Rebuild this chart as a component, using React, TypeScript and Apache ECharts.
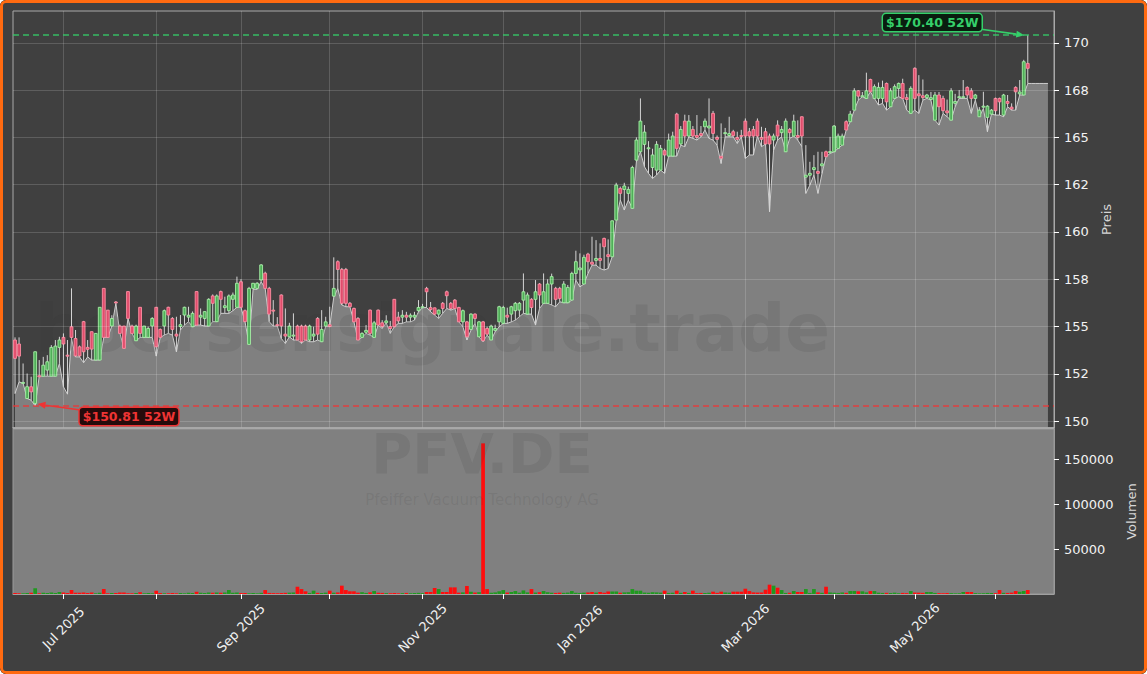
import React, { useEffect, useRef } from "react";
import * as echarts from "echarts";

// ---------- categories (trading days) ----------
const START_DATE = "2025-06-13";
const HOLIDAYS = ["2025-12-24", "2025-12-25", "2025-12-26", "2025-12-31", "2026-01-01", "2026-04-03", "2026-04-06", "2026-05-01"];
const N_CATEGORIES = 258;
const MONTH_NAMES = ["Jan", "Feb", "Mar", "Apr", "May", "Jun", "Jul", "Aug", "Sep", "Oct", "Nov", "Dec"];
const LABEL_MONTHS = [0, 2, 4, 6, 8, 10];

// ---------- price ticks ----------
const PRICE_TICKS = [150, 152.5, 155, 157.5, 160, 162.5, 165, 167.5, 170];
const PRICE_TICK_LABELS = ["150", "152", "155", "158", "160", "162", "165", "168", "170"];
const VOLUME_TICKS = [50000, 100000, 150000];

// ---------- series values ----------
const OPEN = [
  154.29, 154.08, 152.0, 151.2, 151.82, 150.94, 152.4, 152.38, 152.7, 152.38, 152.38, 153.9,
  154.43, 153.49, 154.99, 154.37, 153.93, 155.26, 153.9, 154.73, 153.23, 153.23, 157.02, 155.87,
  155.03, 156.3, 155.03, 155.03, 156.85, 155.03, 154.25, 156.02, 154.43, 154.43, 155.03, 156.02,
  154.85, 155.03, 156.02, 155.43, 154.6, 155.0, 155.61, 155.5, 154.99, 156.85, 155.5, 155.43,
  155.03, 156.62, 155.26, 156.85, 156.0, 155.84, 156.44, 156.02, 157.37, 155.84, 154.06, 157.02,
  157.02, 157.46, 157.82, 157.02, 155.87, 155.1, 156.67, 154.6, 154.46, 154.5, 155.03, 155.03,
  155.03, 154.29, 154.5, 155.43, 154.2, 155.03, 155.1, 156.61, 158.43, 158.02, 158.02, 156.23,
  155.96, 155.43, 154.43, 154.7, 155.87, 154.43, 155.87, 155.2, 155.2, 155.0, 156.44, 155.5,
  155.5, 155.6, 155.5, 155.5, 155.84, 156.0, 157.02, 156.0, 155.99, 155.66, 156.23, 156.84,
  156.23, 156.4, 156.01, 155.25, 155.25, 154.85, 155.66, 154.46, 155.25, 154.9, 154.29, 154.8,
  155.25, 155.17, 155.6, 155.66, 155.84, 155.87, 156.4, 155.66, 156.44, 156.44, 157.25, 156.23,
  156.23, 157.25, 157.02, 157.02, 156.26, 156.26, 156.4, 157.81, 158.0, 157.25, 158.83, 158.4,
  158.5, 158.6, 159.66, 158.8, 158.69, 160.63, 162.3, 162.25, 162.04, 161.25, 163.8, 164.24,
  164.63, 164.42, 163.41, 163.27, 163.27, 164.3, 164.01, 164.01, 166.23, 164.65, 165.86, 165.07,
  165.42, 165.1, 165.2, 165.56, 165.5, 166.27, 165.0, 164.0, 165.2, 165.1, 165.3, 165.0,
  165.1, 165.86, 165.3, 165.42, 165.86, 165.0, 165.3, 165.07, 164.86, 165.65, 165.25, 164.24,
  165.42, 165.07, 165.1, 166.09, 162.9, 163.0, 163.3, 163.2, 163.5, 164.24, 164.2, 164.24,
  164.42, 164.59, 165.83, 165.83, 166.44, 167.46, 167.15, 167.06, 168.06, 167.06, 167.06, 167.06,
  167.85, 166.62, 167.06, 167.59, 167.85, 167.1, 166.27, 168.65, 167.3, 167.2, 167.1, 167.0,
  165.91, 167.24, 167.06, 166.4, 165.91, 166.8, 167.1, 167.1, 167.64, 167.46, 167.06, 166.09,
  166.6, 166.06, 166.23, 167.06, 167.06, 166.18, 166.9, 166.6, 167.64, 167.3, 167.24, 168.91,
];
const HIGH = [
  154.43, 154.43, 153.05, 152.52, 152.35, 153.67, 153.23, 153.4, 153.49, 154.02, 154.29, 154.46,
  154.64, 154.29, 157.02, 154.82, 154.0, 155.3, 154.29, 154.73, 154.64, 156.02, 157.02, 155.87,
  155.6, 156.35, 155.1, 155.03, 156.85, 155.1, 155.1, 156.02, 155.03, 155.0, 155.5, 156.02,
  154.9, 155.9, 156.05, 155.5, 155.52, 155.61, 156.05, 156.05, 155.8, 156.85, 155.96, 155.8,
  156.5, 156.7, 156.7, 156.9, 156.58, 156.7, 156.8, 157.64, 157.5, 155.9, 157.1, 157.3,
  157.35, 158.3, 157.9, 157.1, 156.4, 155.5, 156.7, 155.96, 155.2, 155.7, 155.1, 155.1,
  155.1, 155.1, 155.0, 155.5, 155.87, 155.52, 156.05, 158.66, 158.5, 158.1, 158.1, 156.3,
  156.0, 155.5, 154.7, 155.08, 155.9, 155.3, 155.9, 155.34, 155.6, 155.3, 156.44, 155.78,
  155.87, 155.78, 155.7, 155.78, 156.4, 156.2, 157.1, 156.3, 156.0, 155.9, 156.3, 156.9,
  156.3, 156.45, 156.05, 155.9, 155.3, 155.7, 155.7, 155.3, 155.3, 155.0, 155.1, 155.1,
  156.1, 156.1, 156.0, 156.1, 156.3, 156.3, 157.81, 156.8, 156.5, 157.46, 157.3, 157.81,
  157.5, 157.8, 157.1, 157.1, 157.4, 157.2, 157.9, 159.01, 158.87, 158.8, 158.9, 159.75,
  159.57, 159.4, 159.7, 159.61, 160.6, 162.6, 162.4, 162.6, 162.4, 163.5, 165.0, 167.06,
  165.65, 164.8, 164.4, 164.8, 164.6, 164.4, 165.2, 165.3, 166.3, 165.6, 166.2, 166.18,
  165.6, 166.18, 165.6, 166.0, 167.06, 166.4, 165.1, 165.74, 165.5, 166.09, 165.4, 165.3,
  165.4, 166.0, 165.5, 165.6, 166.0, 165.56, 165.5, 165.2, 165.2, 165.9, 165.6, 166.0,
  165.5, 166.2, 165.9, 166.1, 164.59, 163.71, 164.06, 164.24, 164.24, 164.3, 165.03, 165.65,
  165.2, 165.2, 165.9, 166.4, 167.6, 167.5, 167.4, 168.42, 168.1, 167.8, 167.9, 168.0,
  167.9, 167.6, 167.8, 167.9, 168.1, 167.3, 167.7, 168.7, 168.29, 168.06, 167.3, 167.4,
  167.4, 167.4, 167.2, 167.0, 167.6, 167.3, 167.5, 168.03, 167.7, 167.6, 167.3, 166.6,
  167.41, 166.7, 166.5, 167.1, 167.1, 167.3, 167.24, 166.8, 167.7, 168.03, 169.1, 170.4,
];
const LOW = [
  151.46, 152.08, 152.0, 151.2, 151.11, 150.81, 152.38, 152.38, 152.38, 152.38, 152.38, 153.05,
  151.82, 151.43, 154.37, 153.4, 153.4, 153.09, 153.4, 153.23, 153.23, 153.23, 154.43, 154.43,
  155.03, 156.23, 154.64, 153.85, 155.43, 154.64, 154.25, 154.43, 154.43, 154.43, 154.43, 153.44,
  154.43, 154.55, 154.64, 154.55, 153.67, 154.82, 155.08, 155.26, 154.99, 155.08, 155.08, 155.03,
  155.03, 155.26, 155.26, 155.7, 155.7, 155.7, 155.84, 156.02, 156.02, 155.26, 154.06, 156.97,
  156.97, 157.37, 157.02, 155.26, 155.03, 155.03, 154.37, 154.11, 154.46, 154.29, 154.29, 154.11,
  154.29, 154.2, 154.2, 154.29, 154.2, 155.03, 154.99, 156.56, 157.02, 156.14, 156.05, 156.05,
  155.25, 154.29, 154.43, 154.64, 154.55, 154.43, 155.08, 154.9, 155.2, 154.64, 154.99, 155.17,
  155.17, 155.25, 155.25, 155.34, 155.78, 156.0, 156.01, 155.78, 155.61, 155.43, 155.7, 155.96,
  155.87, 155.96, 155.25, 154.99, 154.29, 154.81, 155.17, 154.46, 154.2, 154.55, 154.29, 154.73,
  154.99, 155.17, 155.17, 155.25, 155.34, 155.52, 155.7, 155.66, 155.66, 155.08, 155.96, 156.23,
  156.23, 156.14, 156.05, 156.31, 156.26, 156.26, 156.4, 157.46, 157.1, 157.25, 157.81, 158.25,
  158.25, 158.07, 157.99, 158.07, 158.69, 160.63, 161.69, 161.16, 161.69, 161.25, 163.71, 164.24,
  163.45, 163.1, 162.83, 163.01, 163.27, 163.1, 164.01, 164.01, 164.01, 164.59, 164.51, 165.03,
  164.95, 164.86, 165.03, 165.39, 164.95, 164.86, 164.59, 163.62, 165.03, 165.03, 165.03, 164.68,
  165.03, 163.89, 164.07, 164.07, 165.07, 164.51, 164.65, 161.07, 164.33, 164.86, 165.03, 164.24,
  164.95, 165.07, 164.86, 164.51, 162.04, 162.48, 163.01, 162.04, 163.09, 163.98, 164.15, 164.24,
  164.42, 164.59, 165.39, 165.83, 166.44, 166.97, 167.15, 167.06, 167.41, 167.06, 166.71, 166.8,
  166.44, 166.62, 167.06, 167.15, 167.06, 166.44, 166.27, 166.44, 166.27, 166.97, 167.06, 166.97,
  165.91, 165.65, 166.27, 166.09, 165.91, 166.62, 167.06, 167.06, 167.06, 166.27, 166.97, 166.09,
  166.53, 165.3, 166.23, 166.18, 166.18, 166.09, 166.62, 166.44, 166.44, 167.24, 167.24, 167.85,
];
const CLOSE = [
  153.32, 153.44, 152.05, 151.82, 151.55, 153.67, 152.38, 152.96, 153.14, 153.9, 153.97, 154.29,
  154.08, 153.47, 154.43, 153.45, 153.45, 153.67, 153.8, 153.81, 154.64, 156.02, 154.43, 154.43,
  155.43, 156.25, 154.64, 153.85, 155.43, 154.64, 155.03, 154.64, 155.03, 154.9, 155.43, 153.93,
  154.43, 155.84, 155.61, 154.85, 154.5, 155.1, 156.02, 155.6, 155.7, 155.08, 155.6, 155.79,
  156.44, 156.23, 156.62, 156.44, 156.1, 156.62, 156.67, 157.29, 156.02, 155.26, 157.02, 157.29,
  157.29, 158.26, 157.02, 155.66, 155.85, 155.05, 155.03, 154.5, 155.03, 154.55, 154.29, 154.2,
  154.29, 155.03, 154.6, 154.6, 154.85, 155.25, 155.0, 157.02, 158.02, 156.23, 156.23, 156.05,
  155.25, 154.29, 154.64, 154.8, 154.64, 155.2, 155.08, 155.0, 155.3, 154.9, 154.99, 155.3,
  155.6, 155.5, 155.6, 155.6, 156.01, 156.05, 156.84, 155.9, 155.66, 155.87, 155.96, 156.63,
  155.96, 155.96, 155.25, 155.84, 154.46, 155.66, 155.43, 155.25, 154.25, 154.6, 155.03, 154.9,
  156.05, 156.01, 155.5, 156.05, 156.23, 156.23, 156.84, 156.67, 156.01, 156.84, 156.67, 156.84,
  157.25, 157.64, 156.44, 156.49, 157.25, 157.07, 157.81, 158.43, 158.1, 158.66, 158.43, 158.3,
  158.6, 158.5, 159.22, 158.7, 160.59, 162.48, 162.04, 162.43, 162.25, 163.41, 164.86, 165.86,
  165.28, 164.45, 164.07, 164.63, 164.42, 164.07, 164.86, 165.07, 164.42, 165.42, 165.07, 165.86,
  165.07, 165.0, 165.1, 165.86, 165.6, 165.21, 164.9, 163.9, 165.25, 165.2, 165.09, 164.9,
  165.05, 165.07, 165.07, 165.07, 165.07, 164.9, 164.65, 164.65, 165.07, 165.07, 165.42, 165.86,
  165.25, 165.86, 165.0, 165.07, 163.0, 163.1, 163.4, 163.1, 163.6, 163.98, 164.25, 165.6,
  165.07, 165.07, 165.39, 166.23, 167.46, 167.18, 167.2, 167.46, 167.41, 167.68, 167.64, 167.64,
  166.88, 167.46, 167.68, 167.85, 167.06, 167.0, 167.59, 167.06, 167.2, 167.1, 167.24, 167.1,
  167.24, 166.62, 166.41, 166.3, 167.46, 166.9, 167.15, 167.15, 167.24, 167.06, 167.24, 166.44,
  166.65, 166.65, 166.44, 166.41, 166.88, 167.24, 166.8, 166.5, 167.41, 167.4, 169.0, 168.65,
];
// the filled low-line keeps its last level for a few more sessions
const LOW_LINE_TAIL = [167.85, 167.85, 167.85, 167.85, 167.85];
const VOLUME = [
  1200, 900, 800, 1000, 1500, 6300, 900, 1400, 1200, 1600, 1000, 2200,
  1800, 1100, 4400, 1500, 1300, 1700, 1200, 1600, 900, 1400, 5500, 800,
  1000, 1200, 1800, 1600, 700, 900, 1100, 2000, 800, 1000, 900, 3700,
  1100, 800, 900, 1000, 700, 1200, 900, 1300, 1100, 2600, 1500, 1200,
  1800, 1400, 1600, 1300, 1700, 4400, 1500, 1800, 1200, 1000, 900, 1100,
  800, 1300, 4400, 1200, 1000, 900, 1100, 1300, 1500, 1700, 8100, 5500,
  3000, 1200, 3700, 1300, 1100, 1500, 3700, 1400, 1700, 9300, 4400, 3000,
  3000, 1500, 2000, 1200, 1800, 3300, 1400, 1200, 1000, 900, 1100, 800,
  1000, 1200, 900, 1100, 1300, 1000, 2200, 2200, 6700, 5500, 2200, 2200,
  7400, 7400, 1500, 1800, 8900, 2500, 1600, 2000, 168000, 5500, 1400, 1800,
  3000, 4400, 1600, 2200, 3300, 1500, 4000, 1800, 5500, 1600, 2000, 3300,
  2000, 1400, 1200, 1500, 1300, 1600, 3300, 1400, 1200, 1500, 1700, 2200,
  1600, 2200, 1400, 2800, 2800, 2800, 1400, 1800, 2000, 5500, 3700, 3700,
  1600, 1400, 2000, 1800, 1500, 3700, 1200, 1400, 3700, 1300, 2200, 1200,
  3700, 1000, 1200, 1100, 1400, 2600, 1300, 2600, 1700, 1500, 2600, 2600,
  2600, 5900, 3300, 1800, 1600, 1700, 4800, 10400, 9300, 7000, 4400, 1200,
  1400, 3300, 2200, 2200, 5500, 1200, 5500, 1800, 1300, 8100, 1700, 1400,
  1200, 1700, 1300, 3300, 3300, 3000, 3000, 1800, 3300, 3300, 1500, 1200,
  1300, 1100, 1500, 900, 1200, 1000, 3300, 1600, 1500, 1300, 2200, 2200,
  1200, 1000, 900, 1100, 1000, 800, 900, 2200, 2200, 2200, 1000, 800,
  900, 1200, 1100, 1000, 4400, 1300, 1200, 1500, 3300, 2500, 3300, 4400,
];
const HIGH_52W = 170.4;
const LOW_52W = 150.81;
const TICKER = "PFV.DE";
const COMPANY = "Pfeiffer Vacuum Technology AG";
const WATERMARK = "boersensignale.trade";

// ---------- styles ----------
const BG = "#404040";
const PANE_GREY = "#808080";
const GRID_LINE = "rgba(255,255,255,0.16)";
const FRAME = "#a9a9a9";
const WICK = "#d4d4d4";
const UP_FILL = "#4fae58";
const UP_EDGE = "#a6f0a6";
const DOWN_FILL = "#e04d6c";
const DOWN_EDGE = "#ff8da3";
const VOL_UP = "#1f9a1f";
const VOL_DOWN = "#ff0d0d";
const GREEN = "#35d06a";
const RED = "#ee3434";
const WM_FILL = "rgba(50,50,50,0.11)";
const FONT = '"DejaVu Sans", sans-serif';

function tradingDays(): string[] {
  const out: string[] = [];
  const d = new Date(START_DATE + "T12:00:00Z");
  while (out.length < N_CATEGORIES) {
    const wd = d.getUTCDay();
    const s = d.toISOString().slice(0, 10);
    if (wd !== 0 && wd !== 6 && HOLIDAYS.indexOf(s) < 0) out.push(s);
    d.setUTCDate(d.getUTCDate() + 1);
  }
  return out;
}

export default function App() {
  const ref = useRef<HTMLDivElement>(null);

  useEffect(() => {
    if (!ref.current) return;
    const chart = echarts.init(ref.current, undefined, { renderer: "svg" });
    const days = tradingDays();
    const monthStart = days.map((d, i) => i > 0 && d.slice(5, 7) !== days[i - 1].slice(5, 7));
    const labelAt = (i: number) => monthStart[i] && LABEL_MONTHS.indexOf(Number(days[i].slice(5, 7)) - 1) >= 0;
    const candleData = OPEN.map((o, i) => [i, o, CLOSE[i], LOW[i], HIGH[i]]);
    const lowLine = LOW.concat(LOW_LINE_TAIL);
    const volData = VOLUME.map((v, i) => ({
      value: v,
      itemStyle: { color: CLOSE[i] >= OPEN[i] ? VOL_UP : VOL_DOWN },
    }));
    const monthLines = days.filter((_, i) => monthStart[i]).map((d) => ({ xAxis: d }));
    const priceLines = PRICE_TICKS.map((v) => ({ yAxis: v }));

    const LEFT = 13;
    const RIGHT = 93;

    const option: any = {
      animation: false,
      backgroundColor: BG,
      textStyle: { fontFamily: FONT },
      grid: [
        { left: LEFT, right: RIGHT, top: 11, height: 417, show: true, backgroundColor: BG, borderColor: FRAME, borderWidth: 1 },
        { left: LEFT, right: RIGHT, top: 429, height: 165, show: true, backgroundColor: PANE_GREY, borderColor: "#9a9a9a", borderWidth: 1 },
      ],
      xAxis: [
        {
          type: "category", gridIndex: 0, data: days, boundaryGap: true, z: 5,
          axisLine: { show: true, lineStyle: { color: "#b4b4b4", width: 1.5 } },
          axisTick: { show: false }, axisLabel: { show: false }, splitLine: { show: false },
        },
        {
          type: "category", gridIndex: 1, data: days, boundaryGap: true,
          axisLine: { show: true, lineStyle: { color: "#a0a0a0" } },
          axisTick: {
            show: true, alignWithLabel: true, length: 5,
            interval: (i: number) => monthStart[i],
            lineStyle: { color: "#ffffff" },
          },
          axisLabel: {
            show: true, rotate: 45, interval: (i: number) => labelAt(i),
            align: "center", verticalAlign: "middle", margin: 34,
            color: "#f2f2f2", fontSize: 13, fontFamily: FONT,
            formatter: (v: string) => MONTH_NAMES[Number(v.slice(5, 7)) - 1] + " " + v.slice(0, 4),
          },
          splitLine: { show: false },
        },
      ],
      yAxis: [
        {
          type: "value", gridIndex: 0, position: "right", min: 149.64, max: 171.68, z: 5,
          axisLine: { show: true, lineStyle: { color: FRAME } },
          axisTick: { show: true, length: 5, customValues: PRICE_TICKS, lineStyle: { color: "#ffffff" } },
          axisLabel: {
            show: true, customValues: PRICE_TICKS, margin: 10, color: "#f2f2f2", fontSize: 13, fontFamily: FONT,
            formatter: (v: number) => {
              const k = PRICE_TICKS.findIndex((t) => Math.abs(t - v) < 1e-6);
              return k >= 0 ? PRICE_TICK_LABELS[k] : "";
            },
          },
          splitLine: { show: false },
          name: "Preis", nameLocation: "middle", nameRotate: 90, nameGap: 44,
          nameTextStyle: { color: "#d6d6d6", fontSize: 13, fontFamily: FONT },
        },
        {
          type: "value", gridIndex: 1, position: "right", min: 0, max: 184000,
          axisLine: { show: true, lineStyle: { color: "#9a9a9a" } },
          axisTick: { show: true, length: 5, customValues: VOLUME_TICKS, lineStyle: { color: "#ffffff" } },
          axisLabel: {
            show: true, customValues: VOLUME_TICKS, margin: 10, color: "#f2f2f2", fontSize: 13, fontFamily: FONT,
            formatter: (v: number) => (VOLUME_TICKS.indexOf(v) >= 0 ? String(v) : ""),
          },
          splitLine: { show: false },
          name: "Volumen", nameLocation: "middle", nameRotate: 90, nameGap: 68,
          nameTextStyle: { color: "#d6d6d6", fontSize: 13, fontFamily: FONT },
        },
      ],
      series: [
        {
          name: "grid", type: "line", xAxisIndex: 0, yAxisIndex: 0, data: [], z: 1, silent: true,
          markLine: {
            silent: true, symbol: ["none", "none"], label: { show: false },
            lineStyle: { color: GRID_LINE, type: "solid", width: 1 },
            emphasis: { disabled: true },
            data: priceLines.concat(monthLines as any),
          },
        },
        {
          name: "low", type: "line", xAxisIndex: 0, yAxisIndex: 0, data: lowLine, z: 2,
          showSymbol: false, symbol: "none", silent: true,
          lineStyle: { color: "#cdcdcd", width: 1 },
          areaStyle: { color: PANE_GREY, opacity: 1, origin: "start" },
          markLine: {
            silent: true, symbol: ["none", "none"], label: { show: false },
            emphasis: { disabled: true },
            data: [
              { yAxis: HIGH_52W, lineStyle: { color: GREEN, type: [6, 4], width: 1.5, opacity: 0.85 } },
              { yAxis: LOW_52W, lineStyle: { color: RED, type: [6, 4], width: 1.5, opacity: 0.85 } },
            ],
          },
        },
        {
          name: "ohlc", type: "custom", xAxisIndex: 0, yAxisIndex: 0, z: 3, silent: true,
          data: candleData,
          encode: { x: 0, y: [1, 2, 3, 4] },
          renderItem: (_p: any, api: any) => {
            const i = api.value(0);
            const o = api.value(1), c = api.value(2), l = api.value(3), h = api.value(4);
            const pO = api.coord([i, o]);
            const x = pO[0];
            const yO = pO[1];
            const yC = api.coord([i, c])[1];
            const yL = api.coord([i, l])[1];
            const yH = api.coord([i, h])[1];
            const bw = api.size([1, 0])[0];
            const w = Math.max(2, bw * 0.7);
            const up = c >= o;
            const top = Math.min(yO, yC);
            const hgt = Math.max(1, Math.abs(yO - yC));
            return {
              type: "group",
              children: [
                { type: "line", shape: { x1: x, y1: yH, x2: x, y2: yL }, style: { stroke: WICK, lineWidth: 1 } },
                {
                  type: "rect", shape: { x: x - w / 2, y: top, width: w, height: hgt },
                  style: { fill: up ? UP_FILL : DOWN_FILL, stroke: up ? UP_EDGE : DOWN_EDGE, lineWidth: 0.9 },
                },
              ],
            };
          },
        },
        {
          name: "volume", type: "bar", xAxisIndex: 1, yAxisIndex: 1, data: volData, barWidth: "92%", z: 2, silent: true,
        },
      ],
    };
    chart.setOption(option);

    const pHigh = chart.convertToPixel({ xAxisIndex: 0, yAxisIndex: 0 }, [OPEN.length - 1, HIGH_52W]) as number[];
    const lowIdx = LOW.indexOf(Math.min(...LOW));
    const pLow = chart.convertToPixel({ xAxisIndex: 0, yAxisIndex: 0 }, [lowIdx, LOW_52W]) as number[];

    const arrow = (tail: number[], tip: number[], color: string) => {
      const dx = tip[0] - tail[0], dy = tip[1] - tail[1];
      const len = Math.hypot(dx, dy);
      const ux = dx / len, uy = dy / len;
      const hl = 8, hw = 3.5;
      const bx = tip[0] - ux * hl, by = tip[1] - uy * hl;
      return [
        { type: "line", z: 30, shape: { x1: tail[0], y1: tail[1], x2: bx, y2: by }, style: { stroke: color, lineWidth: 1.6 } },
        {
          type: "polygon", z: 30,
          shape: { points: [[tip[0], tip[1]], [bx - uy * hw, by + ux * hw], [bx + uy * hw, by - ux * hw]] },
          style: { fill: color },
        },
      ];
    };
    const box = (x: number, y: number, text: string, color: string, bg: string) => ({
      type: "text", x, y, z: 31,
      style: {
        text, fill: color, font: 'bold 12.5px "DejaVu Sans", sans-serif',
        align: "center", verticalAlign: "middle",
        backgroundColor: bg, borderColor: color, borderWidth: 1.5, borderRadius: 3, padding: [2, 3, 2, 3],
      },
    });

    const graphics: any[] = [
      {
        type: "text", z: 2.5, x: 830, y: 328, silent: true,
        style: {
          text: WATERMARK, fill: WM_FILL, font: 'bold 66px "DejaVu Sans", sans-serif',
          align: "right", verticalAlign: "middle",
        },
      },
      {
        type: "text", z: 2.5, x: 482, y: 453, silent: true,
        style: { text: TICKER, fill: WM_FILL, font: 'bold 56px "DejaVu Sans", sans-serif', lineHeight: 44, align: "center", verticalAlign: "middle" },
      },
      {
        type: "text", z: 2.5, x: 482, y: 500, silent: true,
        style: { text: COMPANY, fill: WM_FILL, font: '15px "DejaVu Sans", sans-serif', lineHeight: 14, align: "center", verticalAlign: "middle" },
      },
      ...arrow([pHigh[0] - 46.5, pHigh[1] - 6], [pHigh[0] - 3.5, pHigh[1]], GREEN),
      box(pHigh[0] - 95.5, pHigh[1] - 12.6, "$" + HIGH_52W.toFixed(2) + " 52W", GREEN, "#0a1d0f"),
      ...arrow([pLow[0] + 45.3, pLow[1] + 4.2], [pLow[0] + 2.3, pLow[1] - 1.8], RED),
      box(pLow[0] + 93.8, pLow[1] + 10.7, "$" + LOW_52W.toFixed(2) + " 52W", RED, "#260b0b"),
    ];
    chart.setOption({ graphic: graphics });

    return () => chart.dispose();
  }, []);

  return (
    <div style={{ position: "absolute", left: 0, top: 0, width: 1147, height: 674, background: BG, borderRadius: 6, overflow: "hidden" }}>
      <div ref={ref} style={{ width: 1147, height: 674 }} />
      <div
        style={{
          position: "absolute", left: 0, top: 0, width: 1147, height: 674, boxSizing: "border-box",
          border: "3px solid #ff6a10", borderRadius: 6, pointerEvents: "none",
        }}
      />
    </div>
  );
}
